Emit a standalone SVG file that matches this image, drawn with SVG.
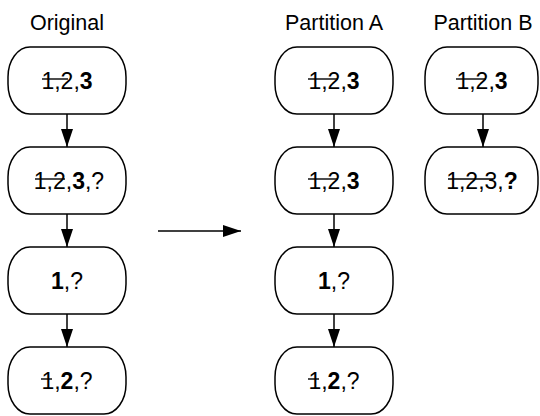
<svg xmlns="http://www.w3.org/2000/svg" width="540" height="416" viewBox="0 0 540 416">
  <style>
    .box { fill: #fff; stroke: #000; stroke-width: 1.5; }
    .title { font-family: "Liberation Sans", Arial, sans-serif; font-size: 21.5px; fill: #000; text-anchor: middle; }
    .lbl { font-family: "Liberation Sans", Arial, sans-serif; font-size: 23px; fill: #000; text-anchor: middle; }
    .b { font-weight: bold; }
    .strike { stroke: #000; stroke-width: 1.4; }
    .edge { stroke: #000; stroke-width: 1.5; fill: none; marker-end: url(#head); }
  </style>
  <defs>
    <marker id="head" viewBox="0 0 18 12" refX="18" refY="6" markerWidth="18" markerHeight="12" markerUnits="userSpaceOnUse" orient="auto">
      <path d="M0,0 L18,6 L0,12 Z" fill="#000"/>
    </marker>
  </defs>

  <!-- column headings -->
  <text class="title" x="67" y="30">Original</text>
  <text class="title" x="334" y="30">Partition A</text>
  <text class="title" x="483" y="30">Partition B</text>

  <!-- connectors -->
  <g id="connectors">
    <line class="edge" x1="67" y1="114" x2="67" y2="147"/>
    <line class="edge" x1="67" y1="214" x2="67" y2="247"/>
    <line class="edge" x1="67" y1="314" x2="67" y2="347"/>
    <line class="edge" x1="334" y1="114" x2="334" y2="147"/>
    <line class="edge" x1="334" y1="214" x2="334" y2="247"/>
    <line class="edge" x1="334" y1="314" x2="334" y2="347"/>
    <line class="edge" x1="483" y1="114" x2="483" y2="147"/>
    <line class="edge" x1="158" y1="231" x2="241" y2="231"/>
  </g>

  <!-- Original column -->
  <g id="orig1">
    <rect class="box" x="8" y="47" width="118" height="67" rx="22" ry="30"/>
    <text class="lbl" x="67" y="89">1,2,<tspan class="b">3</tspan></text>
    <line class="strike" x1="42" y1="79" x2="68" y2="79"/>
  </g>
  <g id="orig2">
    <rect class="box" x="8" y="147" width="118" height="67" rx="22" ry="30"/>
    <text class="lbl" x="69" y="189">1,2,<tspan class="b">3</tspan>,?</text>
    <line class="strike" x1="35" y1="179" x2="65" y2="179"/>
  </g>
  <g id="orig3">
    <rect class="box" x="8" y="247" width="118" height="67" rx="22" ry="30"/>
    <text class="lbl" x="67" y="289"><tspan class="b">1</tspan>,?</text>
  </g>
  <g id="orig4">
    <rect class="box" x="8" y="347" width="118" height="67" rx="22" ry="30"/>
    <text class="lbl" x="67" y="389">1,<tspan class="b">2</tspan>,?</text>
    <line class="strike" x1="41" y1="379" x2="52" y2="379"/>
  </g>

  <!-- Partition A column -->
  <g id="partA1">
    <rect class="box" x="275" y="47" width="118" height="67" rx="22" ry="30"/>
    <text class="lbl" x="334" y="89">1,2,<tspan class="b">3</tspan></text>
    <line class="strike" x1="308" y1="79" x2="338" y2="79"/>
  </g>
  <g id="partA2">
    <rect class="box" x="275" y="147" width="118" height="67" rx="22" ry="30"/>
    <text class="lbl" x="334" y="189">1,2,<tspan class="b">3</tspan></text>
    <line class="strike" x1="308" y1="179" x2="338" y2="179"/>
  </g>
  <g id="partA3">
    <rect class="box" x="275" y="247" width="118" height="67" rx="22" ry="30"/>
    <text class="lbl" x="334" y="289"><tspan class="b">1</tspan>,?</text>
  </g>
  <g id="partA4">
    <rect class="box" x="275" y="347" width="118" height="67" rx="22" ry="30"/>
    <text class="lbl" x="334" y="389">1,<tspan class="b">2</tspan>,?</text>
    <line class="strike" x1="308" y1="379" x2="319" y2="379"/>
  </g>

  <!-- Partition B column -->
  <g id="partB1">
    <rect class="box" x="425" y="47" width="113" height="67" rx="22" ry="30"/>
    <text class="lbl" x="482" y="89">1,2,<tspan class="b">3</tspan></text>
    <line class="strike" x1="456" y1="79" x2="486" y2="79"/>
  </g>
  <g id="partB2">
    <rect class="box" x="425" y="147" width="113" height="67" rx="22" ry="30"/>
    <text class="lbl" x="482" y="189">1,2,3,<tspan class="b">?</tspan></text>
    <line class="strike" x1="448" y1="179" x2="493" y2="179"/>
  </g>
</svg>
